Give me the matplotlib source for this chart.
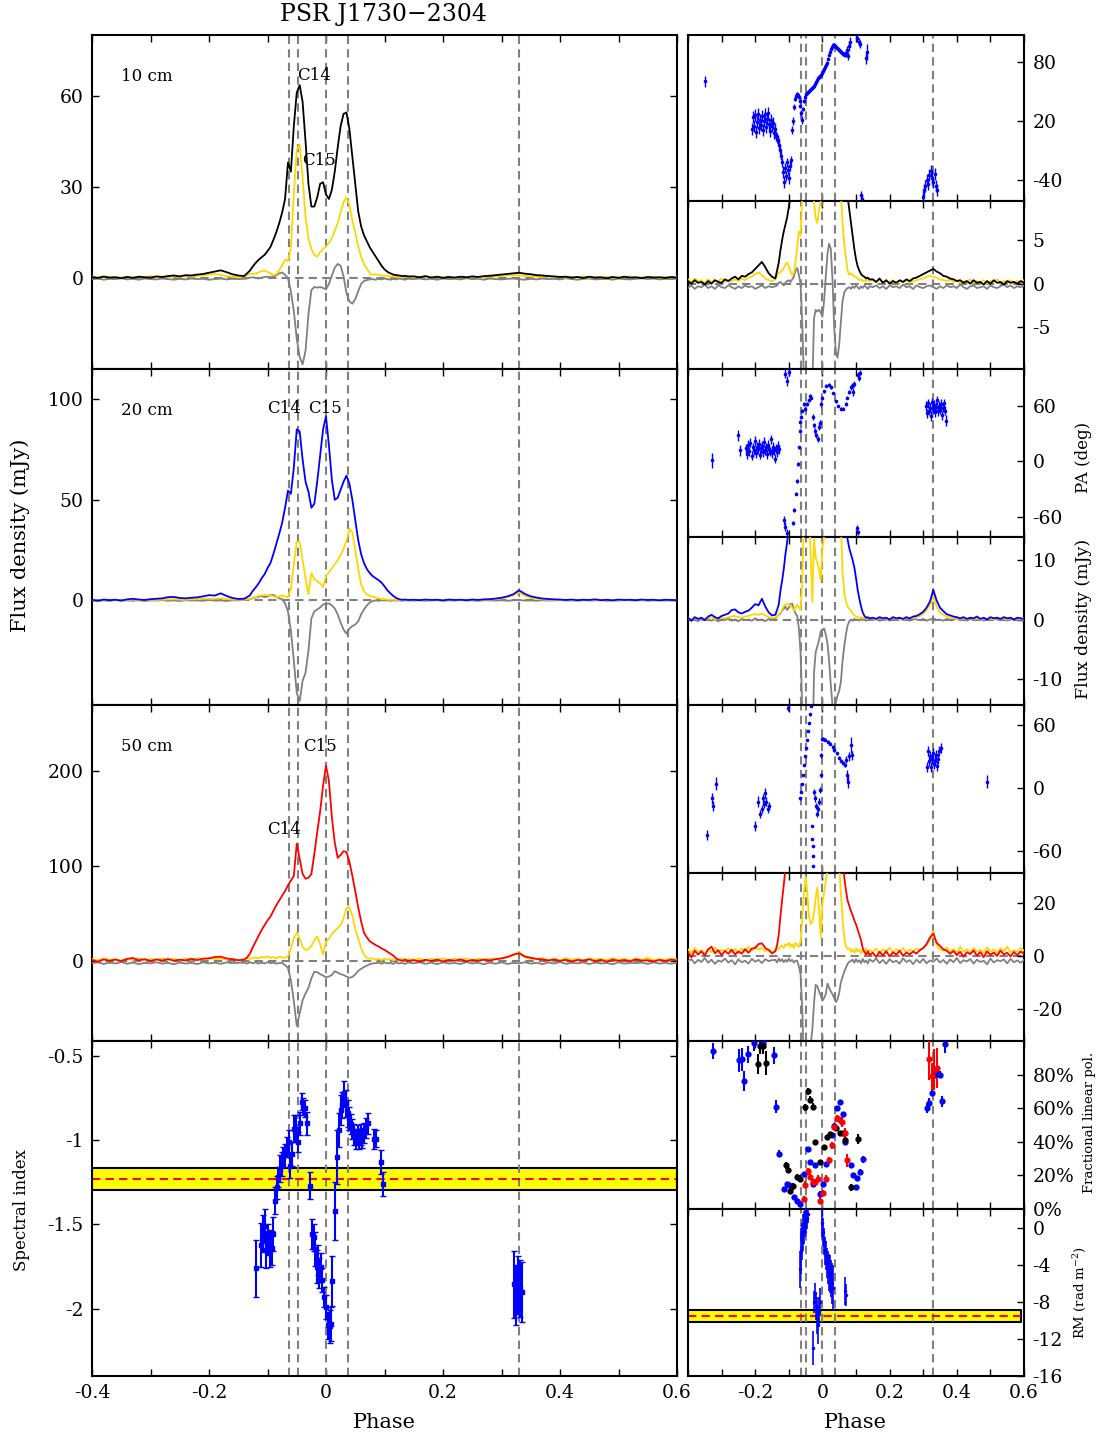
import numpy as np
import matplotlib
matplotlib.use('Agg')
import matplotlib.pyplot as plt

plt.rcParams['font.family'] = 'DejaVu Serif'
plt.rcParams['mathtext.fontset'] = 'dejavuserif'
plt.rcParams['axes.unicode_minus'] = False

# ---------------------------------------------------------------- profiles
# phase bins: coarse off-pulse, finer across the main pulse
ph_left = np.round(np.arange(-0.40, -0.145, 0.01), 3)
ph_on = np.round(np.arange(-0.140, 0.1425, 0.005), 3)
ph_right = np.round(np.arange(0.15, 0.605, 0.01), 3)
phase = np.concatenate([ph_left, ph_on, ph_right])

# 10 cm: total intensity, linear and circular polarisation (mJy)
i10 = ([0.3, 0.0, 0.4, 0.1, 0.2, -0.1, 0.3, 0.0, 0.4, 0.2, 0.1, 0.5, 0.3,
        0.6, 0.8, 0.5, 0.9, 0.8, 1.1, 1.3, 1.7, 2.1, 2.5, 1.9, 1.2, 0.8]
       + [0.6, 1.5, 2.4, 3.8, 5.0, 6.0, 6.8, 7.6, 8.8, 10.2,
          12.5, 15.0, 18.0, 21.5, 26.0, 38.0, 35.0, 50.0, 61.0, 63.5,
          58.0, 45.0, 31.0, 23.5, 23.5, 26.5, 31.0, 31.5, 27.5, 26.0,
          29.0, 35.0, 43.0, 50.0, 54.0, 54.5, 49.0, 40.0, 31.0, 22.0,
          17.0, 14.0, 12.0, 10.0, 8.5, 7.0, 5.5, 4.0, 2.8, 2.0,
          1.5, 1.1, 0.9, 0.8, 0.6, 0.7, 0.5]
       + [0.5, 0.2, 0.6, 0.1, 0.4, 0.0, 0.3, 0.1, 0.4, 0.2, 0.5, 0.3, 0.6,
          0.7, 0.9, 1.1, 1.3, 1.5, 1.7, 1.4, 1.2, 0.9, 0.8, 0.6, 0.5, 0.3,
          0.4, 0.1, 0.3, 0.0, 0.4, 0.1, 0.2, -0.1, 0.3, 0.0, 0.4, 0.1, 0.2,
          -0.1, 0.3, 0.1, 0.2, 0.0, 0.3, 0.1])
l10 = ([0.5, 0.2, 0.6, 0.3, 0.4, 0.1, 0.5, 0.2, 0.4, 0.3, 0.6, 0.2, 0.4,
        0.3, 0.5, 0.3, 0.6, 0.4, 0.7, 0.8, 1.1, 1.3, 1.0, 0.6, 0.4, 0.3]
       + [0.5, 0.9, 1.3, 1.3, 1.5, 1.8, 2.2, 2.4, 2.0, 1.4,
          1.0, 1.2, 2.5, 4.2, 6.0, 5.5, 10.0, 28.0, 42.0, 44.0,
          33.0, 20.0, 13.0, 9.5, 7.5, 7.0, 8.5, 9.5, 10.3, 11.5,
          13.0, 15.5, 18.0, 21.5, 25.0, 26.5, 24.0, 19.0, 15.0, 10.5,
          7.0, 4.5, 3.0, 1.5, 1.0, 1.2, 1.0, 0.8, 0.8, 0.6,
          0.4, 0.5, 0.3, 0.4, 0.3, 0.5, 0.3]
       + [0.4, 0.2, 0.5, 0.1, 0.3, 0.2, 0.4, 0.0, 0.3, 0.2, 0.4, 0.1, 0.3,
          0.4, 0.5, 0.6, 0.8, 0.9, 0.8, 0.7, 0.5, 0.4, 0.3, 0.5, 0.2, 0.4,
          0.1, 0.3, 0.2, 0.5, 0.1, 0.3, 0.2, 0.4, 0.0, 0.3, 0.2, 0.5, 0.1,
          0.3, 0.2, 0.4, 0.1, 0.3, 0.2, 0.4])
v10 = ([-0.5, -0.2, -0.6, -0.3, -0.4, -0.1, -0.5, -0.3, -0.6, -0.2, -0.4, -0.5, -0.2,
        -0.4, -0.6, -0.3, -0.5, -0.2, -0.4, -0.3, -0.6, -0.4, -0.2, -0.5, -0.3, -0.4]
       + [-0.3, -0.2, 0.1, 0.2, 0.0, -0.2, 0.1, 0.3, 0.4, 0.2,
          0.5, 0.8, 1.5, 1.8, 1.0, 0.0, -4.5, -11.0, -20.0, -26.0,
          -28.5, -24.0, -12.0, -4.0, -3.0, -3.2, -3.0, -3.3, -3.8, -2.0,
          0.8, 3.4, 4.6, 4.0, 0.5, -5.0, -7.8, -8.5, -7.0, -4.4,
          -2.0, -1.0, -0.7, -0.5, -0.4, -0.6, -0.3, -0.5, -0.2, -0.4,
          -0.6, -0.3, -0.5, -0.2, -0.4, -0.6, -0.3]
       + [-0.4, -0.2, -0.5, -0.3, -0.6, -0.2, -0.4, -0.3, -0.5, -0.1, -0.4, -0.3, -0.6,
          -0.2, -0.4, -0.5, -0.3, -0.2, -0.4, -0.6, -0.3, -0.5, -0.2, -0.4, -0.3, -0.5,
          -0.1, -0.4, -0.6, -0.3, -0.2, -0.5, -0.4, -0.3, -0.6, -0.2, -0.4, -0.5, -0.3,
          -0.1, -0.4, -0.2, -0.5, -0.3, -0.4, -0.2])

# 20 cm
i20 = ([0.3, -0.2, 0.4, 0.1, 0.3, -0.1, 0.5, 0.8, 0.4, 0.2, 0.6, 0.8, 1.0,
        1.6, 1.7, 1.2, 1.0, 1.3, 1.5, 2.0, 2.6, 2.4, 3.5, 2.2, 1.2, 0.7]
       + [0.8, 1.6, 2.5, 4.8, 6.5, 8.5, 11.0, 13.0, 16.0, 18.5,
          23.0, 28.0, 33.0, 38.5, 46.0, 54.5, 53.0, 66.0, 85.0, 84.0,
          70.0, 59.0, 54.0, 46.0, 48.0, 59.0, 72.0, 85.0, 91.5, 77.0,
          60.0, 50.0, 51.0, 55.0, 59.0, 62.0, 58.0, 50.0, 40.0, 30.0,
          23.0, 18.5, 15.5, 13.5, 12.0, 11.0, 10.0, 8.8, 7.0, 5.0,
          3.5, 2.2, 1.2, 0.6, 0.3, 0.4, 0.2]
       + [0.3, 0.1, 0.4, 0.2, 0.3, 0.0, 0.4, 0.2, 0.3, 0.1, 0.4, 0.2, 0.5,
          0.6, 0.9, 1.3, 2.0, 3.0, 5.0, 3.2, 2.0, 1.4, 0.9, 0.7, 0.5, 0.4,
          0.2, 0.4, 0.1, 0.3, 0.2, 0.5, 0.1, 0.3, 0.0, 0.4, 0.2, 0.3, 0.1,
          0.4, 0.2, 0.3, 0.0, 0.3, 0.2, 0.1])
l20 = ([0.3, 0.0, 0.2, 0.1, 0.3, 0.0, 0.2, 0.4, 0.1, 0.2, 0.3, 0.2, 0.4,
        0.5, 0.6, 0.4, 0.3, 0.5, 0.6, 0.8, 0.9, 0.8, 1.0, 0.7, 0.4, 0.3]
       + [0.3, 0.5, 0.9, 1.1, 1.6, 2.3, 2.5, 2.6, 2.6, 2.4,
          2.0, 1.5, 2.0, 2.5, 2.0, 1.6, 6.0, 18.0, 29.0, 29.0,
          20.0, 11.0, 3.0, 13.5, 10.5, 9.5, 8.5, 6.5, 12.0, 14.0,
          15.8, 18.0, 20.0, 22.5, 25.5, 29.5, 35.5, 34.0, 25.0, 16.0,
          8.0, 4.5, 3.0, 2.2, 1.8, 1.5, 1.0, 0.7, 0.5, 0.4,
          0.3, 0.4, 0.2, 0.3, 0.1, 0.3, 0.2]
       + [0.2, 0.0, 0.3, 0.1, 0.2, 0.0, 0.3, 0.1, 0.2, 0.0, 0.3, 0.2, 0.3,
          0.4, 0.6, 1.0, 1.6, 2.4, 4.0, 2.2, 1.2, 0.8, 0.5, 0.3, 0.2, 0.3,
          0.1, 0.2, 0.0, 0.3, 0.1, 0.2, 0.0, 0.3, 0.1, 0.2, 0.0, 0.3, 0.1,
          0.2, 0.0, 0.3, 0.1, 0.2, 0.0, 0.2])
v20 = ([0.1, -0.2, 0.0, -0.3, 0.2, -0.1, 0.0, -0.2, 0.1, -0.3, 0.0, -0.1, 0.2,
        -0.2, 0.0, -0.3, 0.1, -0.1, 0.0, -0.2, 0.2, -0.1, 0.0, -0.3, 0.1, 0.0]
       + [0.2, 0.5, 0.8, 1.0, 1.5, 1.8, 2.2, 1.6, 2.0, 2.6,
          2.7, 1.8, 1.0, 0.6, -1.5, -5.5, -15.0, -30.0, -46.0, -50.0,
          -40.0, -36.0, -25.0, -9.0, -5.5, -4.5, -3.5, -2.0, -1.8, -1.5,
          -2.5, -4.0, -7.0, -11.0, -14.5, -16.5, -14.0, -12.8, -12.0, -10.5,
          -7.0, -4.5, -2.5, -1.0, -0.3, 0.0, -0.2, 0.1, -0.1, 0.0,
          -0.2, 0.1, -0.1, 0.0, -0.2, 0.1, 0.0]
       + [-0.1, 0.1, -0.2, 0.0, 0.1, -0.2, 0.0, -0.1, 0.2, -0.1, 0.0, -0.2, 0.1,
          0.0, -0.1, 0.1, -0.2, 0.0, 0.2, -0.1, 0.0, -0.2, 0.1, -0.1, 0.0, 0.2,
          -0.1, 0.0, -0.2, 0.1, -0.1, 0.0, 0.1, -0.2, 0.0, -0.1, 0.2, 0.0, -0.1,
          0.1, -0.2, 0.0, 0.1, -0.1, 0.0, -0.1])

# 50 cm
i50 = ([1.5, -0.5, 2.0, 0.5, 1.8, 0.2, 2.5, 3.5, 1.0, 2.2, 0.3, 1.9, 0.8,
        2.4, 0.6, 1.7, 0.9, 2.6, 1.2, 2.8, 3.0, 4.5, 4.8, 3.0, 2.2, 1.0]
       + [1.8, 4.0, 8.0, 15.0, 21.0, 27.0, 33.0, 38.0, 43.0, 47.0,
          53.0, 59.0, 64.0, 69.0, 74.0, 80.0, 85.0, 90.0, 124.0, 108.0,
          92.0, 87.0, 88.0, 92.0, 113.0, 136.0, 158.0, 185.0, 206.0, 190.0,
          152.0, 125.0, 109.0, 112.0, 116.0, 115.0, 105.0, 90.0, 74.0, 57.0,
          42.0, 30.0, 25.0, 21.0, 19.0, 17.0, 15.5, 13.5, 12.0, 10.0,
          8.0, 6.0, 3.0, 1.5, 0.5, 1.8, 0.4]
       + [1.2, -0.4, 1.6, 0.2, 1.8, -0.2, 1.4, 0.5, 2.0, 0.0, 1.3, 0.6, 1.7,
          0.9, 2.2, 3.0, 4.5, 7.0, 8.5, 5.0, 3.8, 2.5, 2.0, 0.8, 1.9, 0.3,
          1.6, -0.3, 1.4, 0.7, 2.1, 0.1, 1.5, -0.5, 1.8, 0.4, 1.3, 0.0, 2.0,
          0.6, 1.2, -0.2, 1.5, 0.3, 1.7, 0.8])
l50 = ([2.5, 1.0, 3.0, 1.5, 2.2, 0.8, 2.8, 1.4, 3.2, 1.1, 2.4, 1.8, 3.0,
        1.2, 2.6, 1.0, 2.9, 1.6, 3.4, 2.0, 3.6, 2.4, 3.0, 1.8, 2.7, 1.5]
       + [2.0, 3.0, 2.5, 3.5, 4.0, 3.0, 4.5, 4.0, 5.0, 3.5,
          4.5, 3.0, 5.0, 4.0, 3.5, 5.5, 14.0, 24.0, 30.0, 24.0,
          15.0, 12.0, 13.0, 16.0, 22.0, 26.0, 18.0, 7.0, 20.0, 24.0,
          28.5, 32.0, 35.0, 38.0, 45.0, 56.0, 57.0, 48.0, 34.0, 24.0,
          14.0, 7.0, 3.5, 2.5, 3.0, 1.5, 2.6, 1.2, 2.8, 1.6,
          2.4, 1.0, 2.2, 1.4, 2.9, 1.1, 2.3]
       + [1.5, 2.8, 1.0, 2.5, 1.8, 3.1, 1.2, 2.6, 1.6, 3.0, 1.3, 2.4, 1.9,
          2.7, 2.2, 3.0, 4.2, 6.0, 9.5, 4.0, 2.5, 2.0, 3.2, 1.4, 2.7, 1.1,
          3.4, 1.6, 2.5, 1.0, 3.0, 1.7, 2.4, 1.2, 3.3, 1.5, 2.6, 1.0, 2.9,
          1.8, 3.5, 1.3, 2.2, 1.6, 3.0, 2.0])
v50 = ([-2.0, -1.2, -2.8, -1.5, -2.3, -0.8, -2.6, -1.4, -3.0, -1.7, -2.2, -1.0, -2.5,
        -1.6, -3.2, -1.3, -2.4, -1.8, -2.9, -1.1, -2.2, -1.5, -2.7, -1.2, -2.0, -1.6]
       + [-1.5, -2.5, -1.0, -2.0, -1.2, -2.4, -1.5, -2.2, -1.0, -2.0,
          -1.5, -2.5, -1.8, -1.8, -4.0, -7.0, -20.0, -42.0, -68.0, -55.0,
          -41.0, -34.0, -28.0, -18.0, -11.0, -11.5, -13.5, -15.0, -17.0, -16.0,
          -14.5, -10.5, -12.0, -13.5, -14.5, -16.0, -17.5, -16.5, -14.0, -10.0,
          -8.0, -6.0, -4.5, -3.0, -2.2, -2.0, -1.4, -2.6, -1.2, -2.3,
          -1.6, -2.8, -1.1, -2.4, -1.7, -2.9, -1.3]
       + [-2.2, -1.0, -2.7, -1.5, -3.0, -1.2, -2.4, -1.8, -2.9, -0.9, -2.3, -1.6, -3.1,
          -1.4, -2.6, -1.1, -2.8, -1.7, -2.2, -1.0, -2.5, -1.5, -3.0, -1.3, -2.4, -0.8,
          -2.7, -1.6, -2.1, -1.2, -2.9, -1.4, -2.3, -1.8, -3.2, -1.0, -2.5, -1.6, -2.0,
          -1.3, -2.8, -1.1, -2.4, -1.7, -2.6, -1.5])

# ---------------------------------------------------------- position angles
pa10_phase = [-0.349,
              -0.209, -0.206, -0.203, -0.200, -0.197, -0.194, -0.191, -0.188, -0.185,
              -0.182, -0.179, -0.176, -0.173, -0.170, -0.167, -0.164, -0.161, -0.158,
              -0.155, -0.152, -0.149, -0.146, -0.143, -0.140, -0.137, -0.134, -0.131,
              -0.128, -0.125, -0.122, -0.119, -0.116, -0.113, -0.110, -0.107, -0.104,
              -0.101, -0.098, -0.095, -0.092,
              -0.090, -0.088, -0.086, -0.083, -0.080, -0.077, -0.074, -0.071, -0.068,
              -0.066, -0.063, -0.061,
              -0.058, -0.055, -0.052, -0.049, -0.046, -0.043, -0.040, -0.037, -0.034, -0.031,
              -0.028, -0.025, -0.022, -0.019, -0.016, -0.013, -0.010, -0.007, -0.004, -0.001,
              0.002, 0.005, 0.008, 0.011, 0.014, 0.017, 0.020, 0.023, 0.026, 0.029,
              0.032, 0.035, 0.038, 0.041, 0.044, 0.047, 0.050, 0.053, 0.056, 0.059,
              0.062, 0.065, 0.068, 0.071, 0.074, 0.077, 0.080, 0.083,
              0.104, 0.108, 0.112, 0.116, 0.119, 0.131, 0.133,
              0.298, 0.302, 0.306, 0.310, 0.314, 0.318, 0.322, 0.326, 0.330, 0.334,
              0.338, 0.342]
pa10_deg = [60,
            12, 24, 15, 26, 9, 19, 27, 13, 21,
            16, 25, 11, 20, 27, 14, 22, 28, 17,
            10, 21, 15, 18, 8, 12, 5, 3, 1,
            -4, -9, -15, -22, -32, -42, -28, -36, -22,
            -30, -38, -26, -20,
            11, 20, 34, 42, 45, 47, 46, 44, 40,
            35, 28, 21,
            32, 40, 44, 47, 48, 49, 50, 51, 52, 53,
            54, 55, 57, 59, 61, 63, 64, 65, 67, 69,
            71, 73, 75, 77, 79, 83, 87, 90, 93, 95,
            97, 97, 96, 95, 94, 93, 92, 91, 90, 89,
            88, 88, 87, 89, 92, 86, 96, 100,
            104, 100, 98, -55, -59, 84, 90,
            -57, -50, -46, -40, -44, -35, -31, -38, -42, -34,
            -46, -50]
pa10_err = [6,
            6, 6, 6, 6, 6, 6, 6, 6, 6,
            6, 6, 6, 6, 6, 6, 6, 6, 6,
            6, 6, 6, 6, 6, 6, 5, 5, 5,
            5, 5, 5, 5, 6, 6, 5, 5, 5,
            5, 6, 5, 5,
            4, 4, 3, 2, 2, 2, 2, 2, 2,
            2, 3, 4,
            2, 2, 2, 1.5, 1.5, 1.5, 1.5, 1.5, 1.5, 1.5,
            1.5, 1.5, 1.5, 1.5, 1.5, 1.5, 1.5, 1.5, 1.5, 1.5,
            1.5, 1.5, 1.5, 1.5, 1.5, 1.5, 1.5, 1.5, 1.5, 1.5,
            1.5, 1.5, 1.5, 1.5, 1.5, 1.5, 1.5, 1.5, 1.5, 1.5,
            2, 2, 2, 3, 4, 4, 5, 5,
            4, 4, 4, 4, 4, 6, 8,
            6, 6, 6, 6, 6, 6, 6, 6, 6, 6,
            6, 6]

pa20_phase = [-0.329, -0.250, -0.245,
              -0.226, -0.223, -0.220, -0.217, -0.214, -0.211, -0.208, -0.205, -0.202, -0.199,
              -0.196, -0.193, -0.190, -0.187, -0.184, -0.181, -0.178, -0.175, -0.172, -0.169,
              -0.166, -0.163, -0.160, -0.157, -0.154, -0.151, -0.148, -0.145, -0.142, -0.139,
              -0.136, -0.133, -0.130,
              -0.115, -0.110, -0.105, -0.110, -0.105, -0.100,
              -0.088, -0.084, -0.080, -0.077, -0.074, -0.071, -0.068, -0.066, -0.064,
              -0.061, -0.056, -0.051, -0.046, -0.041, -0.036, -0.033,
              -0.028, -0.024, -0.021, -0.018, -0.014, -0.010, -0.006, -0.004,
              -0.001, 0.004, 0.012, 0.019, 0.026, 0.032, 0.039, 0.046, 0.054, 0.062,
              0.069, 0.074, 0.079, 0.084, 0.088, 0.091, 0.093,
              0.105, 0.109, 0.113, 0.103, 0.106,
              0.307, 0.310, 0.313, 0.316, 0.319, 0.322, 0.325, 0.328, 0.331, 0.334,
              0.337, 0.340, 0.343, 0.346, 0.349, 0.352, 0.355, 0.358, 0.361, 0.364, 0.367]
pa20_deg = [1, 28, 12,
            14, 8, 18, 11, 20, 6, 15, 12, 22, 9,
            16, 13, 19, 7, 14, 17, 10, 21, 12, 15,
            8, 18, 13, 11, 24, 9, 16, 12, 3, 14,
            10, 17, 13,
            -64, -71, -78, 95, 87, 97,
            -67, -53, -35, -21, -3, 15, 33, 43, 48,
            55, 62, 57, 62, 66, 71, 69,
            48, 39, 33, 28, 24, 37, 42, 62,
            69, 76, 82, 83, 80, 74, 65, 60, 57, 57,
            62, 69, 75, 80, 82, 75, 84,
            94, 90, 96, -72, -77,
            60, 52, 63, 55, 58, 49, 64, 57, 61, 53,
            59, 66, 54, 60, 56, 62, 50, 58, 63, 55, 44]
pa20_err = [8, 6, 6,
            5, 5, 5, 5, 5, 5, 5, 5, 5, 5,
            5, 5, 5, 5, 5, 5, 5, 5, 5, 5,
            5, 5, 5, 5, 5, 5, 5, 5, 5, 5,
            5, 5, 5,
            5, 5, 5, 5, 5, 5,
            2, 2, 2, 2, 2, 2, 2, 2, 2,
            2, 2, 2, 2, 2, 2, 2,
            3, 3, 3, 3, 3, 3, 3, 3,
            1.5, 1.5, 1.5, 1.5, 1.5, 1.5, 1.5, 1.5, 1.5, 1.5,
            2, 2, 2, 3, 3, 4, 3,
            3, 3, 3, 3, 3,
            5, 5, 5, 5, 5, 5, 5, 5, 5, 5,
            5, 5, 5, 5, 5, 5, 5, 5, 5, 5, 6]

pa50_phase = [-0.344, -0.329, -0.327, -0.316,
              -0.200, -0.193, -0.185, -0.180, -0.177, -0.173, -0.170, -0.167, -0.163, -0.160,
              -0.103,
              -0.066, -0.063, -0.060, -0.057, -0.054, -0.051, -0.048, -0.045, -0.042, -0.039,
              -0.036, -0.033,
              -0.031, -0.030, -0.029, -0.028, -0.027,
              -0.024, -0.021, -0.019, -0.016, -0.013, -0.010, -0.007,
              -0.004, -0.003, -0.001,
              0.002, 0.009, 0.016, 0.024, 0.032, 0.036, 0.042, 0.049, 0.056, 0.062,
              0.067, 0.071,
              0.074, 0.077, 0.079, 0.084, 0.087,
              0.310, 0.314, 0.317, 0.320, 0.323, 0.326, 0.329, 0.332, 0.335, 0.338,
              0.341, 0.344, 0.348, 0.352,
              0.490]
pa50_deg = [-45, -10, -17, 4,
            -36, -13, -25, -20, -10, -15, -5, -13, -20, -17,
            76,
            -10, -4, 4, 12, 22, 30, 38, 46, 54, 62,
            70, 78,
            -36, -49, -55, -65, -74,
            -4, -10, -17, -25, -20, -13, -2,
            12, 31, 47,
            47, 46, 44, 42, 39, 36, 33, 29, 26, 24,
            22, 27,
            12, 6, 30, 41, 31,
            20, 35, 26, 30, 20, 28, 33, 23, 26, 31,
            21, 28, 35, 38,
            6]
pa50_err = [5, 5, 5, 6,
            5, 5, 4, 4, 4, 4, 5, 4, 4, 4,
            3,
            1, 1, 1, 1, 1, 1, 1, 1, 1, 1,
            1, 1,
            1, 1, 1, 1, 1,
            3, 3, 3, 3, 3, 3, 3,
            2, 2, 2,
            1.5, 1.5, 1.5, 1.5, 1.5, 1.5, 1.5, 1.5, 1.5, 1.5,
            2, 3,
            5, 6, 4, 8, 4,
            5, 5, 5, 5, 5, 5, 5, 5, 5, 5,
            5, 5, 5, 5,
            6]

# ---------------------------------------------------------- spectral index
si_phase = [-0.119, -0.111, -0.108, -0.105, -0.102, -0.099, -0.096, -0.093, -0.090, -0.087,
            -0.084, -0.082, -0.079, -0.076, -0.073, -0.070, -0.067, -0.064, -0.061, -0.058,
            -0.055, -0.051, -0.048, -0.044, -0.041, -0.039, -0.036, -0.032, -0.027, -0.024,
            -0.021, -0.018, -0.016, -0.014, -0.012, -0.009, -0.007, -0.003, 0.000, 0.003,
            0.006, 0.008, 0.011, 0.015, 0.018, 0.022, 0.025, 0.028, 0.031, 0.034,
            0.037, 0.039, 0.042, 0.045, 0.048, 0.051, 0.054, 0.056, 0.059, 0.062,
            0.065, 0.068, 0.072, 0.082, 0.085, 0.094, 0.098, 0.322, 0.325, 0.328,
            0.331, 0.335]
si_val = [-1.76, -1.62, -1.555, -1.51, -1.65, -1.59, -1.64, -1.64, -1.555, -1.36,
          -1.28, -1.22, -1.17, -1.14, -1.10, -1.09, -1.04, -1.01, -1.155, -1.08,
          -0.93, -0.93, -1.01, -0.90, -0.77, -0.80, -0.81, -0.90, -1.27, -1.555,
          -1.575, -1.645, -1.75, -1.71, -1.79, -1.75, -1.83, -1.93, -1.99, -2.10,
          -2.105, -2.09, -1.835, -1.42, -1.10, -0.94, -0.82, -0.79, -0.72, -0.78,
          -0.84, -0.87, -0.905, -0.935, -0.965, -0.99, -0.97, -0.99, -0.965, -0.985,
          -0.955, -0.925, -0.90, -0.99, -0.99, -1.13, -1.26, -1.855, -1.92, -1.86,
          -1.88, -1.90]
si_err = [0.17, 0.13, 0.11, 0.10, 0.11, 0.09, 0.11, 0.10, 0.10, 0.08,
          0.07, 0.06, 0.08, 0.07, 0.06, 0.07, 0.06, 0.07, 0.07, 0.07,
          0.08, 0.08, 0.06, 0.07, 0.05, 0.05, 0.05, 0.07, 0.08, 0.09,
          0.08, 0.10, 0.10, 0.09, 0.09, 0.08, 0.07, 0.06, 0.07, 0.08,
          0.10, 0.10, 0.15, 0.17, 0.16, 0.10, 0.09, 0.08, 0.07, 0.08,
          0.08, 0.07, 0.06, 0.06, 0.06, 0.06, 0.06, 0.06, 0.06, 0.06,
          0.06, 0.06, 0.06, 0.06, 0.05, 0.07, 0.07, 0.20, 0.18, 0.17,
          0.17, 0.18]
si_mean, si_sigma = -1.23, 0.065

# ------------------------------------------------ fractional linear polarisation
fl10_phase = [-0.193, -0.185, -0.177, -0.168, -0.107, -0.102, -0.096, -0.088, -0.075, -0.067,
              -0.051, -0.043, -0.036, -0.028, -0.021, -0.008, 0.004, 0.014, 0.022, 0.039,
              0.052, 0.062, 0.067, 0.084, 0.106]
fl10_val = [0.865, 0.97, 0.97, 0.87, 0.26, 0.235, 0.11, 0.135, 0.19, 0.18,
            0.605, 0.70, 0.65, 0.61, 0.40, 0.28, 0.37, 0.43, 0.445, 0.48,
            0.45, 0.45, 0.41, 0.13, 0.415]
fl10_err = [0.06, 0.05, 0.05, 0.07, 0.02, 0.02, 0.02, 0.02, 0.02, 0.02,
            0.02, 0.02, 0.02, 0.02, 0.01, 0.01, 0.01, 0.01, 0.01, 0.01,
            0.01, 0.01, 0.01, 0.02, 0.03]

fl20_phase = [-0.326, -0.247, -0.240, -0.232, -0.222, -0.205, -0.177, -0.145, -0.137, -0.129,
              -0.113, -0.105, -0.098, -0.084, -0.075, -0.066, -0.054, -0.043, -0.036, -0.028,
              -0.021, -0.008, 0.002, 0.011, 0.029, 0.036, 0.044, 0.052, 0.060, 0.068,
              0.084, 0.092, 0.099, 0.103, 0.113, 0.121, 0.311, 0.317, 0.325, 0.332,
              0.340, 0.350, 0.357, 0.365]
fl20_val = [0.94, 0.885, 0.89, 0.76, 0.92, 0.99, 0.99, 0.915, 0.61, 0.33,
            0.12, 0.15, 0.14, 0.07, 0.05, 0.03, 0.21, 0.355, 0.28, 0.15,
            0.26, 0.09, 0.15, 0.27, 0.44, 0.495, 0.60, 0.635, 0.565, 0.40,
            0.26, 0.205, 0.13, 0.185, 0.22, 0.295, 0.60, 0.63, 0.69, 0.80,
            0.81, 0.80, 0.64, 0.98]
fl20_err = [0.05, 0.07, 0.07, 0.06, 0.05, 0.05, 0.05, 0.05, 0.04, 0.02,
            0.01, 0.01, 0.01, 0.01, 0.01, 0.01, 0.01, 0.01, 0.01, 0.01,
            0.01, 0.02, 0.01, 0.01, 0.01, 0.01, 0.01, 0.01, 0.01, 0.01,
            0.01, 0.01, 0.01, 0.01, 0.02, 0.02, 0.03, 0.03, 0.02, 0.02,
            0.02, 0.02, 0.03, 0.05]

fl50_phase = [-0.056, -0.051, -0.043, -0.036, -0.028, -0.021, -0.014, -0.006, 0.002, 0.011,
              0.019, 0.029, 0.036, 0.044, 0.052, 0.059, 0.066, 0.074, 0.317, 0.325,
              0.332, 0.340]
fl50_val = [0.06, 0.145, 0.225, 0.19, 0.16, 0.16, 0.18, 0.05, 0.095, 0.18,
            0.29, 0.38, 0.49, 0.54, 0.53, 0.52, 0.45, 0.29, 0.89, 0.79,
            0.83, 0.84]
fl50_err = [0.02, 0.02, 0.02, 0.02, 0.02, 0.02, 0.02, 0.02, 0.02, 0.02,
            0.02, 0.02, 0.02, 0.02, 0.02, 0.03, 0.03, 0.04, 0.12, 0.08,
            0.12, 0.12]

# ----------------------------------------------------------- rotation measure
rm_phase = [-0.066, -0.063, -0.060, -0.057, -0.054, -0.051, -0.048, -0.045, -0.042,
            -0.028,
            -0.025, -0.022, -0.019, -0.016, -0.013, -0.010, -0.007,
            -0.001, 0.002, 0.005, 0.008, 0.011, 0.014, 0.017, 0.020, 0.023, 0.026,
            0.029, 0.032,
            0.068, 0.070]
rm_val = [-4.5, -2.5, -1.5, -0.5, 0.0, 0.5, 0.8, 1.0, 1.5,
          -13.0,
          -8.0, -7.0, -8.5, -9.5, -10.5, -9.0, -8.0,
          0.5, -0.5, -1.5, -2.5, -3.0, -3.8, -4.3, -4.8, -5.0, -5.5,
          -6.0, -6.5,
          -6.8, -7.3]
rm_err = [2.0, 2.5, 2.0, 2.0, 1.8, 1.5, 1.5, 1.2, 1.0,
          1.8,
          1.2, 1.0, 1.5, 2.0, 2.0, 1.5, 1.5,
          1.5, 1.5, 1.5, 1.5, 1.6, 1.6, 1.8, 2.0, 2.0, 2.0,
          2.2, 2.5,
          1.5, 1.2]
rm_mean, rm_sigma = -9.55, 0.65

# component phases marked in every panel
comp_phase = [-0.063, -0.048, 0.0, 0.038, 0.330]

# ------------------------------------------------------------------ figure
W, H = 1099, 1437
fig = plt.figure(figsize=(W / 100, H / 100), dpi=100)

DASH = (0, (4, 2.5))
GOLD = '#FFD700'
TICK_FS = 13.5


def box(x0, y0, x1, y1):
    return fig.add_axes([x0 / W, 1 - y1 / H, (x1 - x0) / W, (y1 - y0) / H])


def setup(ax, side, bottom_labels=None):
    ax.set_xlim(-0.4, 0.6)
    ax.set_xticks(np.round(np.arange(-0.4, 0.61, 0.1), 1))
    if bottom_labels is None:
        ax.set_xticklabels([])
    else:
        ax.set_xticklabels(bottom_labels)
    for s in ax.spines.values():
        s.set_linewidth(1.5)
    if side == 'left':
        ax.tick_params(direction='in', top=True, bottom=True, left=True, right=True,
                       length=5, width=1, labelsize=TICK_FS, pad=6)
    else:
        ax.yaxis.tick_right()
        ax.tick_params(direction='in', top=True, bottom=True, left=False, right=True,
                       length=5, width=1, labelsize=TICK_FS, pad=6)
    for p in comp_phase:
        ax.axvline(p, color='grey', ls=DASH, lw=1.5, zorder=2)


def profile(ax, tot, lin, circ, color):
    ax.axhline(0, color='grey', ls=DASH, lw=1.5, zorder=1)
    ax.plot(phase, circ, color='grey', lw=1.3, zorder=3)
    ax.plot(phase, lin, color=GOLD, lw=1.3, zorder=4)
    ax.plot(phase, tot, color=color, lw=1.3, zorder=5)


left_rows = [(35, 369), (369, 705), (705, 1041), (1041, 1376)]
right_rows = [(35, 201), (201, 369), (369, 537), (537, 705),
              (705, 873), (873, 1041), (1041, 1209), (1209, 1376)]
left_xlab = ['-0.4', '', '-0.2', '', '0', '', '0.2', '', '0.4', '', '0.6']
right_xlab = ['', '', '-0.2', '', '0', '', '0.2', '', '0.4', '', '0.6']

bands = [
    ('10 cm', i10, l10, v10, 'black', (-30, 80), [0, 30, 60],
     [(-0.021, 66.6, 'C14'), (-0.012, 38.6, 'C15')],
     (-61, 107), [-40, 20, 80], pa10_phase, pa10_deg, pa10_err,
     (-9.8, 9.5), [-5, 0, 5]),
    ('20 cm', i20, l20, v20, 'blue', (-52, 115), [0, 50, 100],
     [(-0.071, 95.2, 'C14'), (-0.002, 95.2, 'C15')],
     (-82, 100), [-60, 0, 60], pa20_phase, pa20_deg, pa20_err,
     (-14.4, 13.9), [-10, 0, 10]),
    ('50 cm', i50, l50, v50, 'red', (-84, 270), [0, 100, 200],
     [(-0.011, 226.8, 'C15'), (-0.071, 138.6, 'C14')],
     (-81, 79), [-60, 0, 60], pa50_phase, pa50_deg, pa50_err,
     (-32.3, 31.5), [-20, 0, 20]),
]

for k, (name, tot, lin, circ, col, ylim, yt, comps,
        pa_lim, pa_ticks, pa_ph, pa_deg, pa_err, zoom_lim, zoom_ticks) in enumerate(bands):
    # full profile on the left
    ax = box(92, left_rows[k][0], 677, left_rows[k][1])
    setup(ax, 'left')
    profile(ax, tot, lin, circ, col)
    ax.set_ylim(*ylim)
    ax.set_yticks(yt)
    ax.set_yticklabels([str(v) for v in yt])
    ax.text(0.05, 0.877, name, transform=ax.transAxes, ha='left', va='center', fontsize=12)
    for cx, cy, lab in comps:
        ax.text(cx, cy, lab, ha='center', va='center', fontsize=12, zorder=6)

    # position angle on the right
    axp = box(688, right_rows[2 * k][0], 1024, right_rows[2 * k][1])
    setup(axp, 'right')
    axp.errorbar(pa_ph, pa_deg, yerr=pa_err, fmt='o', ms=1.6, color='blue',
                 ecolor='blue', elinewidth=1.0, capsize=0, zorder=4)
    axp.set_ylim(*pa_lim)
    axp.set_yticks(pa_ticks)
    axp.set_yticklabels([str(v) for v in pa_ticks])

    # baseline close-up on the right
    axz = box(688, right_rows[2 * k + 1][0], 1024, right_rows[2 * k + 1][1])
    setup(axz, 'right')
    profile(axz, tot, lin, circ, col)
    axz.set_ylim(*zoom_lim)
    axz.set_yticks(zoom_ticks)
    axz.set_yticklabels([str(v) for v in zoom_ticks])

# spectral index
ax = box(92, left_rows[3][0], 677, left_rows[3][1])
setup(ax, 'left', left_xlab)
ax.axhspan(si_mean - si_sigma, si_mean + si_sigma, facecolor='yellow',
           edgecolor='black', lw=1.5, zorder=1)
ax.axhline(si_mean, color='red', ls=DASH, lw=1.5, zorder=2)
ax.errorbar(si_phase, si_val, yerr=si_err, fmt='s', ms=2.2, color='blue',
            ecolor='blue', elinewidth=1.5, capsize=2, capthick=1, zorder=4)
ax.set_ylim(-2.4, -0.41)
ax.set_yticks([-2, -1.5, -1, -0.5])
ax.set_yticklabels(['-2', '-1.5', '-1', '-0.5'])

# fractional linear polarisation
axf = box(688, right_rows[6][0], 1024, right_rows[6][1])
setup(axf, 'right')
for ph, val, err, col in [(fl20_phase, fl20_val, fl20_err, 'blue'),
                          (fl10_phase, fl10_val, fl10_err, 'black'),
                          (fl50_phase, fl50_val, fl50_err, 'red')]:
    axf.errorbar(ph, val, yerr=err, fmt='o', ms=3.5, color=col, ecolor=col,
                 elinewidth=1.5, capsize=0, zorder=4)
axf.set_ylim(0, 1.0)
axf.set_yticks([0, 0.2, 0.4, 0.6, 0.8])
axf.set_yticklabels(['0%', '20%', '40%', '60%', '80%'])

# rotation measure
axr = box(688, right_rows[7][0], 1024, right_rows[7][1])
setup(axr, 'right', right_xlab)
axr.fill_between([-0.4, 0.59], rm_mean - rm_sigma, rm_mean + rm_sigma,
                 facecolor='yellow', edgecolor='black', lw=1.5, zorder=1)
axr.plot([-0.4, 0.59], [rm_mean, rm_mean], color='red', ls=DASH, lw=1.5, zorder=2)
axr.errorbar(rm_phase, rm_val, yerr=rm_err, fmt='o', ms=1.5, color='blue',
             ecolor='blue', elinewidth=1.2, capsize=0, zorder=4)
axr.set_ylim(-16, 2)
axr.set_yticks([0, -4, -8, -12, -16])
axr.set_yticklabels(['0', '-4', '-8', '-12', '-16'])

# titles and axis labels
fig.text(384 / W, 1 - 15 / H, 'PSR J1730\u22122304', ha='center', va='center', fontsize=17)
fig.text(20 / W, 1 - 535 / H, 'Flux density (mJy)', rotation=90,
         ha='center', va='center', fontsize=15)
fig.text(22 / W, 1 - 1210 / H, 'Spectral index', rotation=90,
         ha='center', va='center', fontsize=12)
fig.text(384 / W, 1 - 1422 / H, 'Phase', ha='center', va='center', fontsize=15)
fig.text(855 / W, 1 - 1422 / H, 'Phase', ha='center', va='center', fontsize=15)
fig.text(1083 / W, 1 - 457 / H, 'PA (deg)', rotation=90,
         ha='center', va='center', fontsize=12)
fig.text(1083 / W, 1 - 619 / H, 'Flux density (mJy)', rotation=90,
         ha='center', va='center', fontsize=12.5)
fig.text(1089 / W, 1 - 1122 / H, 'Fractional linear pol.', rotation=90,
         ha='center', va='center', fontsize=9.5)
fig.text(1080 / W, 1 - 1293 / H, 'RM (rad m$^{-2}$)', rotation=90,
         ha='center', va='center', fontsize=9.5)

plt.savefig('out.png', dpi=100)
